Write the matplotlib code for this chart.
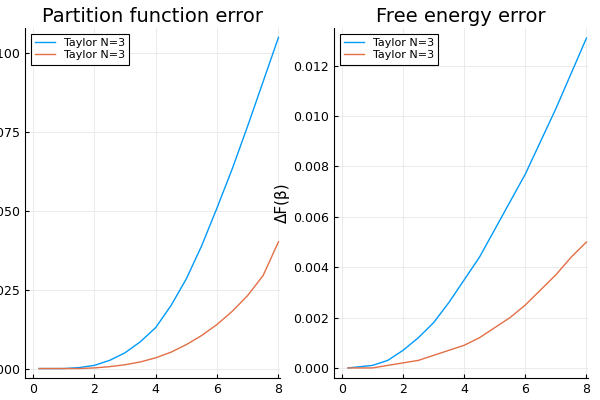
import matplotlib.pyplot as plt

x = [0.2, 1, 1.5, 2, 2.5, 3, 3.5, 4, 4.5, 5, 5.5, 6, 6.5, 7, 7.5, 8]
z_blue = [0, 0.0000, 0.0003, 0.0010, 0.0026, 0.0050, 0.0085, 0.0130, 0.0200, 0.0285, 0.0390, 0.0510, 0.0635, 0.0770, 0.0910, 0.1050]
z_red = [0, 0.0000, 0.0000, 0.0002, 0.0006, 0.0012, 0.0021, 0.0034, 0.0052, 0.0076, 0.0105, 0.0140, 0.0182, 0.0232, 0.0295, 0.0402]
f_blue = [0, 0.0001, 0.0003, 0.0007, 0.0012, 0.0018, 0.0026, 0.0035, 0.0044, 0.0055, 0.0066, 0.0077, 0.0090, 0.0103, 0.0117, 0.0131]
f_red = [0, 0.0000, 0.0001, 0.0002, 0.0003, 0.0005, 0.0007, 0.0009, 0.0012, 0.0016, 0.0020, 0.0025, 0.0031, 0.0037, 0.0044, 0.0050]

blue = '#009AFA'
red = '#E26F46'

fig = plt.figure(figsize=(6, 4), dpi=100)
ax1 = fig.add_axes([25 / 600, 22 / 400, 255 / 600, 350 / 400])
ax2 = fig.add_axes([334 / 600, 22 / 400, 254 / 600, 350 / 400])

for ax, yb, yr, title in [(ax1, z_blue, z_red, 'Partition function error'),
                          (ax2, f_blue, f_red, 'Free energy error')]:
    ax.plot(x, yb, color=blue, lw=1, label='Taylor N=3')
    ax.plot(x, yr, color=red, lw=1, label='Taylor N=3')
    ax.set_title(title, fontsize=14, pad=4)
    ax.set_xticks([0, 2, 4, 6, 8])
    ax.set_xlim(-0.26, 8.05)
    ax.grid(True, color='#e8e8e8', lw=0.6)
    for s in ['top', 'right']:
        ax.spines[s].set_visible(False)
    ax.tick_params(direction='in', length=3, labelsize=9)
    leg = ax.legend(loc='upper left', fontsize=8, fancybox=False,
                    edgecolor='black', framealpha=1, handlelength=1.8,
                    borderpad=0.4, labelspacing=0.2)
    leg.get_frame().set_linewidth(0.8)

ax1.set_yticks([0, 0.025, 0.05, 0.075, 0.1])
ax1.set_yticklabels(['0.000', '0.025', '0.050', '0.075', '0.100'])
ax1.set_ylim(-0.003, 0.108)
ax2.set_yticks([0, 0.002, 0.004, 0.006, 0.008, 0.010, 0.012])
ax2.set_yticklabels(['0.000', '0.002', '0.004', '0.006', '0.008', '0.010', '0.012'])
ax2.set_ylim(-0.0004, 0.0135)
ax2.set_ylabel('ΔF(β)', fontsize=11, labelpad=2)

fig.savefig('out.png')
